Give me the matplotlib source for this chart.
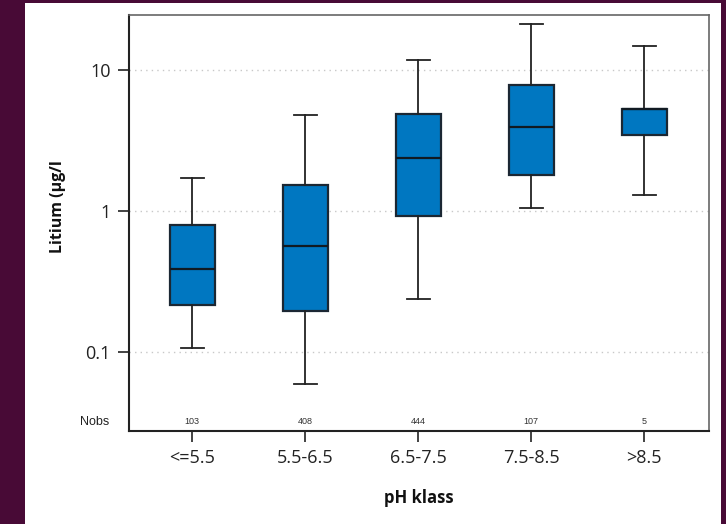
import matplotlib
matplotlib.use("Agg")
import matplotlib.pyplot as plt
from matplotlib.patches import Rectangle
import matplotlib.transforms as mtransforms

# ---- data ----
categories = ["<=5.5", "5.5-6.5", "6.5-7.5", "7.5-8.5", ">8.5"]
whisker_low = [0.107, 0.060, 0.239, 1.056, 1.30]
q1 = [0.216, 0.195, 0.927, 1.79, 3.45]
median = [0.387, 0.565, 2.37, 3.95, 5.30]
q3 = [0.792, 1.53, 4.86, 7.76, 5.22]
whisker_high = [1.72, 4.78, 11.65, 21.0, 14.7]
nobs = [103, 408, 444, 107, 5]
ytick_vals = [0.1, 1, 10]
ytick_labels = ["0.1", "1", "10"]

W, H = 726, 524
fig = plt.figure(figsize=(W / 100, H / 100), dpi=100, facecolor="#480a36")
fig.patches.append(Rectangle((25 / W, 0), (721 - 25) / W, (524 - 3) / H,
                             transform=fig.transFigure, facecolor="white",
                             edgecolor="none", zorder=-10))

left, right, top, bottom = 128.7, 709.0, 15.0, 430.7
ax = fig.add_axes([left / W, (H - bottom) / H, (right - left) / W, (bottom - top) / H])
ax.set_facecolor("white")

stats = []
for i, c in enumerate(categories):
    stats.append(dict(label=c, whislo=whisker_low[i], q1=q1[i], med=median[i],
                      q3=max(q3[i], median[i]), whishi=whisker_high[i], fliers=[]))

positions = list(range(1, len(categories) + 1))
ax.bxp(stats, positions=positions, widths=0.4, capwidths=0.2, patch_artist=True,
       showfliers=False,
       boxprops=dict(facecolor="#0077c1", edgecolor="#1b2733", linewidth=1.6),
       medianprops=dict(color="#111a22", linewidth=1.6),
       whiskerprops=dict(color="#222222", linewidth=1.3),
       capprops=dict(color="#222222", linewidth=1.3))

ax.set_yscale("log")
ax.set_ylim(0.0279, 24.4)
ax.set_xlim(0.437, 5.573)
ax.set_yticks(ytick_vals)
ax.set_yticklabels(ytick_labels)
ax.yaxis.set_minor_locator(matplotlib.ticker.NullLocator())
ax.set_xticks(positions)
ax.set_xticklabels(categories)

for v in ytick_vals:
    ax.axhline(v, color="#c8c8c8", linestyle=(0, (1, 3)), linewidth=1.0, zorder=0)

ax.tick_params(axis="both", direction="out", length=8, width=1.2, color="#222222",
               labelsize=13, labelcolor="#222222")
for lab in ax.get_xticklabels() + ax.get_yticklabels():
    lab.set_family(["Open Sans", "DejaVu Sans"])
ax.tick_params(axis="x", pad=5)
ax.tick_params(axis="y", pad=5)

for s in ["left", "bottom"]:
    ax.spines[s].set_color("#222222")
    ax.spines[s].set_linewidth(1.5)
for s in ["top", "right"]:
    ax.spines[s].set_color("#666666")
    ax.spines[s].set_linewidth(1.2)

trans = mtransforms.blended_transform_factory(ax.transData, ax.transAxes)
for p, n in zip(positions, nobs):
    ax.text(p, 0.021, str(n), transform=trans, ha="center", va="center",
            fontsize=6.5, family=["Liberation Sans", "DejaVu Sans"], color="#333333")
ax.text(-0.058, 0.021, "Nobs", transform=ax.transAxes, ha="center", va="center",
        fontsize=9, family=["Liberation Sans", "DejaVu Sans"], color="#222222")

ax.set_ylabel("Litium (µg/l", fontsize=11.5, fontweight="bold",
              family=["Open Sans", "DejaVu Sans"], color="#111111")
ax.yaxis.set_label_coords(-0.108, 0.538)
ax.set_xlabel("pH klass", fontsize=12, fontweight="bold",
              family=["Open Sans", "DejaVu Sans"], color="#111111")
ax.xaxis.set_label_coords(0.5, -0.140)

fig.savefig("out.png", dpi=100, facecolor=fig.get_facecolor())
